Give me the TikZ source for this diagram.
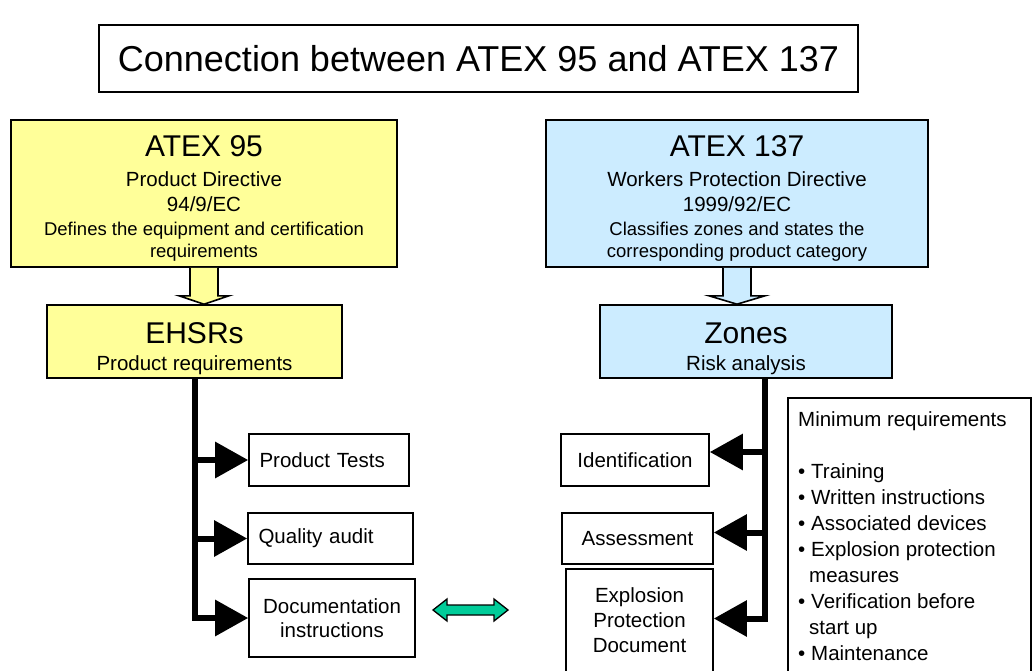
\documentclass[tikz,border=0pt]{standalone}
\usepackage{fontspec}
\setmainfont{Liberation Sans}
\usetikzlibrary{arrows.meta,calc}
\definecolor{atexyellow}{RGB}{255,255,153}
\definecolor{atexblue}{RGB}{204,236,255}
\definecolor{linkgreen}{RGB}{0,204,153}
\newcommand{\fsz}[2]{\fontsize{#1}{#2}\selectfont}
\begin{document}
\begin{tikzpicture}[x=1pt,y=-1pt,
  frame/.style={draw, line width=1.6pt, inner sep=0pt},
  ybox/.style={frame, fill=atexyellow},
  bbox/.style={frame, fill=atexblue},
  wbox/.style={frame, fill=white, font=\fsz{20.5}{24}},
  big/.style={anchor=base, inner sep=0pt, font=\fsz{30}{36}},
  mid/.style={anchor=base, inner sep=0pt, font=\fsz{20.5}{24}},
  small/.style={anchor=base, inner sep=0pt, font=\fsz{18.5}{22}},
  conn/.style={line width=6pt, line join=miter, -{Triangle[length=33pt,width=35pt]}},
  blockarrow/.style={draw, line width=1.6pt, line join=miter},
]
\useasboundingbox (0,0) rectangle (1032,671);

% title
\node[frame, minimum width=759pt, minimum height=67pt, font=\fsz{36}{40}] (title) at (478.5,58.5) {Connection between ATEX 95 and ATEX 137};

% ATEX 95 column
\node[ybox, minimum width=386pt, minimum height=147pt] (atex95) at (204,193.5) {};
\node[big]   (a95l1) at (204,157) {ATEX 95};
\node[mid]   (a95l2) at (204,186) {Product Directive};
\node[mid]   (a95l3) at (204,211) {94/9/EC};
\node[small] (a95l4) at (204,235) {Defines the equipment and certification};
\node[small] (a95l5) at (204,257) {requirements};

\node[ybox, minimum width=295pt, minimum height=73pt] (ehsrs) at (194.5,341.5) {};
\node[big] (ehsrsl1) at (194.5,343) {EHSRs};
\node[mid] (ehsrsl2) at (194.5,370) {Product requirements};

% ATEX 137 column
\node[bbox, minimum width=382pt, minimum height=147pt] (atex137) at (737,193.5) {};
\node[big]   (a137l1) at (737,157) {ATEX 137};
\node[mid]   (a137l2) at (737,186) {Workers Protection Directive};
\node[mid]   (a137l3) at (737,211) {1999/92/EC};
\node[small] (a137l4) at (737,235) {Classifies zones and states the};
\node[small] (a137l5) at (737,257) {corresponding product category};

\node[bbox, minimum width=292pt, minimum height=73pt] (zones) at (746,341.5) {};
\node[big] (zonesl1) at (746,343) {Zones};
\node[mid] (zonesl2) at (746,370) {Risk analysis};

% hollow block arrows
\coordinate (ya) at (atex95.south);
\fill[atexyellow] ($(ya)+(-14,0)$) -- ($(ya)+(-14,28)$) -- ($(ya)+(-25,28)$) -- (ya |- ehsrs.north)
  -- ($(ya)+(25,28)$) -- ($(ya)+(14,28)$) -- ($(ya)+(14,0)$) -- cycle;
\draw[blockarrow] ($(ya)+(-14,0)$) -- ($(ya)+(-14,28)$) -- ($(ya)+(-25,28)$) -- (ya |- ehsrs.north)
  -- ($(ya)+(25,28)$) -- ($(ya)+(14,28)$) -- ($(ya)+(14,0)$);
\coordinate (ba) at (atex137.south);
\fill[atexblue] ($(ba)+(-14,0)$) -- ($(ba)+(-14,28)$) -- ($(ba)+(-28,28)$) -- (ba |- zones.north)
  -- ($(ba)+(28,28)$) -- ($(ba)+(14,28)$) -- ($(ba)+(14,0)$) -- cycle;
\draw[blockarrow] ($(ba)+(-14,0)$) -- ($(ba)+(-14,28)$) -- ($(ba)+(-28,28)$) -- (ba |- zones.north)
  -- ($(ba)+(28,28)$) -- ($(ba)+(14,28)$) -- ($(ba)+(14,0)$);

% left result boxes
\node[wbox, minimum width=160pt, minimum height=52pt, text width=139pt, inner xsep=10.5pt, align=left] (tests) at (329,460) {Product Tests};
\node[wbox, minimum width=165pt, minimum height=51pt, text width=144pt, inner xsep=10.5pt, align=left] (audit) at (330.5,538.5) {Quality audit};
\node[wbox, minimum width=166pt, minimum height=78pt, align=center] (docs) at (332,618) {Documentation\\instructions};

% right result boxes
\node[wbox, minimum width=148pt, minimum height=52pt] (ident) at (635,460) {Identification};
\node[wbox, minimum width=151pt, minimum height=51pt] (assess) at (637.5,538.5) {Assessment};
\node[wbox, minimum width=147pt, minimum height=103pt, align=center, font=\fsz{20.5}{25}] (epd) at (639.5,620.5) {Explosion\\Protection\\Document};

% minimum requirements
\node[frame, anchor=north west, minimum width=243pt, minimum height=300pt] (minreq) at (787,397) {};
\node[anchor=base west, inner sep=0pt, align=left, font=\fsz{20.5}{25.9}] (minreqt) at (798,660)
{Minimum requirements\\[25.9pt]
\makebox[13pt][l]{•}Training\\
\makebox[13pt][l]{•}Written instructions\\
\makebox[13pt][l]{•}Associated devices\\
\makebox[13pt][l]{•}Explosion protection\\
\hspace*{11pt}measures\\
\makebox[13pt][l]{•}Verification before\\
\hspace*{11pt}start up\\
\makebox[13pt][l]{•}Maintenance};

% connectors
\draw[conn] (ehsrs.south) |- (tests.west);
\draw[conn] (ehsrs.south) |- (audit.west);
\draw[conn] (ehsrs.south) |- (docs.west);
\coordinate (rbar) at ($(zones.south)+(19,0)$);
\draw[conn] (rbar) |- ($(ident.east)+(0,-8)$);
\draw[conn] (rbar) |- ($(assess.east)+(0,-6)$);
\draw[conn] (rbar) |- ($(epd.east)+(0,-2)$);

% green double arrow
\coordinate (gl) at (433,610);
\coordinate (gr) at (508,610);
\draw[fill=linkgreen, line width=1.3pt, line join=miter] (gl) -- ++(14,-11) -- ++(0,6) -- ($(gr)+(-14,-5)$) -- ++(0,-6)
  -- (gr) -- ++(-14,11) -- ++(0,-6) -- ($(gl)+(14,5)$) -- ++(0,6) -- cycle;
\end{tikzpicture}
\end{document}
